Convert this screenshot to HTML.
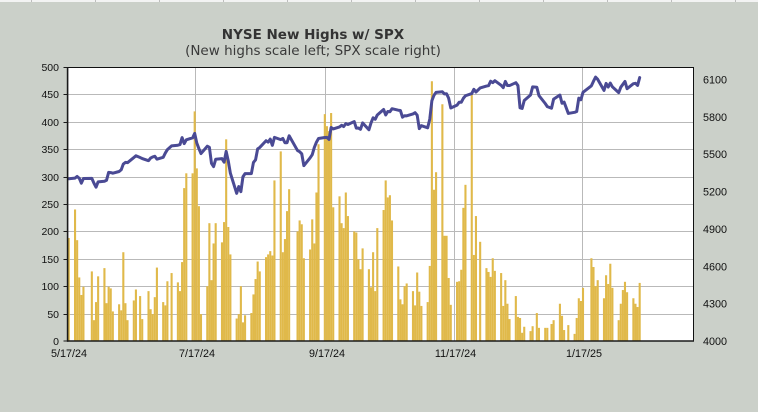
<!DOCTYPE html>
<html>
<head>
<meta charset="utf-8">
<style>
html,body{margin:0;padding:0;background:#cbd0c9;}
svg{display:block;}
.ax{font-family:"Liberation Sans",Arial,sans-serif;font-size:10.8px;fill:#111;}
</style>
</head>
<body>
<svg width="758" height="412" viewBox="0 0 758 412" xmlns="http://www.w3.org/2000/svg">
<rect x="0" y="0" width="758" height="412" fill="#cbd0c9"/>
<rect x="0" y="0" width="758" height="2" fill="#f3f3f3"/>
<g stroke="#bdbdbd" stroke-width="1">
<line x1="31.5" y1="0" x2="31.5" y2="2"/><line x1="95.5" y1="0" x2="95.5" y2="2"/><line x1="159.5" y1="0" x2="159.5" y2="2"/><line x1="223.5" y1="0" x2="223.5" y2="2"/><line x1="287.5" y1="0" x2="287.5" y2="2"/><line x1="351.5" y1="0" x2="351.5" y2="2"/><line x1="415.5" y1="0" x2="415.5" y2="2"/><line x1="479.5" y1="0" x2="479.5" y2="2"/><line x1="543.5" y1="0" x2="543.5" y2="2"/><line x1="607.5" y1="0" x2="607.5" y2="2"/><line x1="671.5" y1="0" x2="671.5" y2="2"/><line x1="735.5" y1="0" x2="735.5" y2="2"/>
</g>

<text x="313" y="39" text-anchor="middle" font-family="DejaVu Sans, Verdana, sans-serif" font-weight="bold" font-size="13.5" fill="#333">NYSE New Highs w/ SPX</text>
<text x="313" y="55" text-anchor="middle" font-family="DejaVu Sans, Verdana, sans-serif" font-size="13.5" fill="#3a3a3a">(New highs scale left; SPX scale right)</text>

<!-- plot area -->
<rect x="67.5" y="67.5" width="626" height="273.5" fill="#ffffff"/>

<!-- gridlines -->
<g stroke="#b9b9b9" stroke-width="1">
<line x1="68" y1="94.5" x2="693" y2="94.5"/>
<line x1="68" y1="122.5" x2="693" y2="122.5"/>
<line x1="68" y1="149.5" x2="693" y2="149.5"/>
<line x1="68" y1="177.5" x2="693" y2="177.5"/>
<line x1="68" y1="204.5" x2="693" y2="204.5"/>
<line x1="68" y1="231.5" x2="693" y2="231.5"/>
<line x1="68" y1="259.5" x2="693" y2="259.5"/>
<line x1="68" y1="286.5" x2="693" y2="286.5"/>
<line x1="68" y1="314.5" x2="693" y2="314.5"/>
<line x1="195.5" y1="68" x2="195.5" y2="341"/>
<line x1="325.5" y1="68" x2="325.5" y2="341"/>
<line x1="454.5" y1="68" x2="454.5" y2="341"/>
<line x1="582.5" y1="68" x2="582.5" y2="341"/>
</g>

<!-- bars -->
<g transform="translate(67.7,341) scale(2.099,-0.548)" fill="#e0b94a">
<rect x="0" width="1" height="188"/><rect x="3" width="1" height="240"/><rect x="4" width="1" height="184"/><rect x="5" width="1" height="116"/><rect x="6" width="1" height="84"/><rect x="7" width="1" height="99"/>
<rect x="11" width="1" height="127"/><rect x="12" width="1" height="38"/><rect x="13" width="1" height="71"/><rect x="14" width="1" height="118"/>
<rect x="17" width="1" height="133"/><rect x="18" width="1" height="69"/><rect x="19" width="1" height="99"/><rect x="20" width="1" height="96"/><rect x="21" width="1" height="54"/>
<rect x="24" width="1" height="67"/><rect x="25" width="1" height="56"/><rect x="26" width="1" height="162"/><rect x="27" width="1" height="69"/><rect x="28" width="1" height="38"/>
<rect x="31" width="1" height="74"/><rect x="32" width="1" height="94"/><rect x="34" width="1" height="82"/><rect x="35" width="1" height="40"/>
<rect x="38" width="1" height="91"/><rect x="39" width="1" height="58"/><rect x="40" width="1" height="49"/><rect x="41" width="1" height="80"/><rect x="42" width="1" height="134"/>
<rect x="45" width="1" height="71"/><rect x="46" width="1" height="65"/><rect x="47" width="1" height="109"/><rect x="49" width="1" height="124"/>
<rect x="52" width="1" height="107"/><rect x="53" width="1" height="91"/><rect x="54" width="1" height="144"/><rect x="55" width="1" height="279"/><rect x="56" width="1" height="306"/>
<rect x="59" width="1" height="306"/><rect x="60" width="1" height="419"/><rect x="61" width="1" height="315"/><rect x="62" width="1" height="246"/><rect x="63" width="1" height="49"/>
<rect x="66" width="1" height="100"/><rect x="67" width="1" height="215"/><rect x="68" width="1" height="111"/><rect x="69" width="1" height="178"/><rect x="70" width="1" height="215"/>
<rect x="73" width="1" height="180"/><rect x="74" width="1" height="217"/><rect x="75" width="1" height="368"/><rect x="76" width="1" height="208"/><rect x="77" width="1" height="158"/>
<rect x="80" width="1" height="41"/><rect x="81" width="1" height="49"/><rect x="82" width="1" height="100"/><rect x="83" width="1" height="34"/><rect x="84" width="1" height="47"/>
<rect x="87" width="1" height="51"/><rect x="88" width="1" height="85"/><rect x="89" width="1" height="113"/><rect x="90" width="1" height="145"/><rect x="91" width="1" height="127"/>
<rect x="94" width="1" height="153"/><rect x="95" width="1" height="158"/><rect x="96" width="1" height="164"/><rect x="97" width="1" height="156"/><rect x="98" width="1" height="293"/>
<rect x="101" width="1" height="346"/><rect x="102" width="1" height="162"/><rect x="103" width="1" height="186"/><rect x="104" width="1" height="237"/><rect x="105" width="1" height="277"/>
<rect x="109" width="1" height="200"/><rect x="110" width="1" height="220"/><rect x="111" width="1" height="213"/><rect x="112" width="1" height="151"/>
<rect x="115" width="1" height="167"/><rect x="116" width="1" height="222"/><rect x="117" width="1" height="178"/><rect x="118" width="1" height="271"/><rect x="119" width="1" height="359"/>
<rect x="122" width="1" height="414"/><rect x="123" width="1" height="392"/><rect x="124" width="1" height="383"/><rect x="125" width="1" height="416"/><rect x="126" width="1" height="244"/>
<rect x="129" width="1" height="264"/><rect x="130" width="1" height="215"/><rect x="131" width="1" height="206"/><rect x="132" width="1" height="271"/><rect x="133" width="1" height="228"/>
<rect x="136" width="1" height="200"/><rect x="137" width="1" height="198"/><rect x="138" width="1" height="149"/><rect x="139" width="1" height="131"/><rect x="140" width="1" height="169"/>
<rect x="143" width="1" height="131"/><rect x="144" width="1" height="98"/><rect x="145" width="1" height="162"/><rect x="146" width="1" height="91"/><rect x="147" width="1" height="206"/>
<rect x="150" width="1" height="239"/><rect x="151" width="1" height="293"/><rect x="152" width="1" height="262"/><rect x="153" width="1" height="266"/><rect x="154" width="1" height="220"/>
<rect x="157" width="1" height="136"/><rect x="158" width="1" height="76"/><rect x="159" width="1" height="67"/><rect x="160" width="1" height="100"/><rect x="161" width="1" height="105"/>
<rect x="164" width="1" height="91"/><rect x="165" width="1" height="65"/><rect x="166" width="1" height="125"/><rect x="167" width="1" height="90"/><rect x="168" width="1" height="64"/>
<rect x="171" width="1" height="71"/><rect x="172" width="1" height="137"/><rect x="173" width="1" height="474"/><rect x="174" width="1" height="276"/><rect x="175" width="1" height="308"/>
<rect x="178" width="1" height="432"/><rect x="179" width="1" height="192"/><rect x="180" width="1" height="192"/><rect x="181" width="1" height="115"/><rect x="182" width="1" height="66"/>
<rect x="185" width="1" height="108"/><rect x="186" width="1" height="109"/><rect x="187" width="1" height="130"/><rect x="188" width="1" height="243"/><rect x="189" width="1" height="285"/>
<rect x="192" width="1" height="449"/><rect x="193" width="1" height="157"/><rect x="194" width="1" height="228"/><rect x="196" width="1" height="181"/>
<rect x="199" width="1" height="133"/><rect x="200" width="1" height="126"/><rect x="201" width="1" height="117"/><rect x="202" width="1" height="151"/><rect x="203" width="1" height="128"/>
<rect x="206" width="1" height="124"/><rect x="207" width="1" height="64"/><rect x="208" width="1" height="111"/><rect x="209" width="1" height="68"/><rect x="210" width="1" height="40"/>
<rect x="213" width="1" height="82"/><rect x="214" width="1" height="44"/><rect x="215" width="1" height="42"/><rect x="216" width="1" height="15"/><rect x="217" width="1" height="26"/>
<rect x="220" width="1" height="18"/><rect x="221" width="1" height="27"/><rect x="223" width="1" height="51"/><rect x="224" width="1" height="24"/>
<rect x="227" width="1" height="24"/><rect x="228" width="1" height="24"/><rect x="230" width="1" height="31"/><rect x="231" width="1" height="38"/>
<rect x="234" width="1" height="68"/><rect x="235" width="1" height="46"/><rect x="236" width="1" height="20"/><rect x="238" width="1" height="29"/>
<rect x="241" width="1" height="13"/><rect x="242" width="1" height="42"/><rect x="243" width="1" height="78"/><rect x="244" width="1" height="73"/><rect x="245" width="1" height="97"/>
<rect x="249" width="1" height="151"/><rect x="250" width="1" height="135"/><rect x="251" width="1" height="100"/><rect x="252" width="1" height="111"/>
<rect x="255" width="1" height="78"/><rect x="256" width="1" height="120"/><rect x="257" width="1" height="104"/><rect x="258" width="1" height="141"/><rect x="259" width="1" height="97"/>
<rect x="262" width="1" height="38"/><rect x="263" width="1" height="68"/><rect x="264" width="1" height="93"/><rect x="265" width="1" height="108"/><rect x="266" width="1" height="89"/>
<rect x="269" width="1" height="78"/><rect x="270" width="1" height="68"/><rect x="271" width="1" height="62"/><rect x="272" width="1" height="106"/>
</g>

<!-- SPX line -->
<g transform="translate(67.7,341) scale(2.099,-0.124545)">
<polyline fill="none" stroke="#4a4a94" stroke-width="3" stroke-linejoin="round" stroke-linecap="round" vector-effect="non-scaling-stroke" points="0.5,1303 3.5,1308 4.5,1321 5.5,1307 6.5,1267 7.5,1305 11.5,1306 12.5,1267 13.5,1235 14.5,1278 17.5,1283 18.5,1291 19.5,1354 20.5,1352 21.5,1347 24.5,1361 25.5,1375 26.5,1421 27.5,1434 28.5,1432 31.5,1473 32.5,1487 34.5,1473 35.5,1465 38.5,1448 39.5,1469 40.5,1478 41.5,1483 42.5,1460 45.5,1475 46.5,1509 47.5,1537 49.5,1567 52.5,1572 53.5,1577 54.5,1633 55.5,1585 56.5,1615 59.5,1631 60.5,1667 61.5,1589 62.5,1545 63.5,1505 66.5,1564 67.5,1555 68.5,1427 69.5,1400 70.5,1459 73.5,1464 74.5,1436 75.5,1522 76.5,1446 77.5,1347 80.5,1186 81.5,1240 82.5,1199 83.5,1319 84.5,1344 87.5,1344 88.5,1434 89.5,1455 90.5,1543 91.5,1554 94.5,1608 95.5,1597 96.5,1621 97.5,1571 98.5,1635 101.5,1617 102.5,1626 103.5,1592 104.5,1592 105.5,1648 109.5,1529 110.5,1520 111.5,1503 112.5,1408 115.5,1471 116.5,1496 117.5,1554 118.5,1596 119.5,1626 122.5,1634 123.5,1635 124.5,1618 125.5,1714 126.5,1703 129.5,1719 130.5,1732 131.5,1722 132.5,1745 133.5,1738 136.5,1762 137.5,1709 138.5,1710 139.5,1700 140.5,1751 143.5,1696 144.5,1751 145.5,1792 146.5,1780 147.5,1815 150.5,1859 151.5,1815 152.5,1843 153.5,1841 154.5,1865 157.5,1853 158.5,1851 159.5,1797 160.5,1809 161.5,1808 164.5,1823 165.5,1833 166.5,1813 167.5,1705 168.5,1729 171.5,1712 172.5,1782 173.5,1929 174.5,1973 175.5,1996 178.5,2001 179.5,1984 180.5,1985 181.5,1949 182.5,1871 185.5,1894 186.5,1917 187.5,1917 188.5,1949 189.5,1969 192.5,1987 193.5,2021 194.5,1999 196.5,2032 199.5,2047 200.5,2050 201.5,2086 202.5,2075 203.5,2090 206.5,2053 207.5,2034 208.5,2084 209.5,2051 210.5,2051 213.5,2074 214.5,2051 215.5,1872 216.5,1867 217.5,1931 220.5,1975 221.5,2040 223.5,2037 224.5,1971 227.5,1907 228.5,1882 230.5,1869 231.5,1942 234.5,1975 235.5,1909 236.5,1918 238.5,1827 241.5,1836 242.5,1843 243.5,1950 244.5,1937 245.5,1997 249.5,2049 250.5,2086 251.5,2119 252.5,2101 255.5,2012 256.5,2068 257.5,2039 258.5,2071 259.5,2041 262.5,1994 263.5,2038 264.5,2061 265.5,2084 266.5,2026 269.5,2066 270.5,2069 271.5,2052 272.5,2115"/>
</g>

<!-- frame -->
<line x1="67" y1="67.5" x2="694" y2="67.5" stroke="#111" stroke-width="1"/>
<line x1="693.5" y1="67" x2="693.5" y2="341.5" stroke="#111" stroke-width="1"/>
<line x1="67.6" y1="67" x2="67.6" y2="341.8" stroke="#1a1a1a" stroke-width="1.6"/>
<line x1="67" y1="341" x2="694" y2="341" stroke="#1a1a1a" stroke-width="1.6"/>

<!-- left ticks -->
<g stroke="#1a1a1a" stroke-width="1">
<line x1="63.5" y1="67.5" x2="67" y2="67.5"/>
<line x1="63.5" y1="94.5" x2="67" y2="94.5"/>
<line x1="63.5" y1="122.5" x2="67" y2="122.5"/>
<line x1="63.5" y1="149.5" x2="67" y2="149.5"/>
<line x1="63.5" y1="177.5" x2="67" y2="177.5"/>
<line x1="63.5" y1="204.5" x2="67" y2="204.5"/>
<line x1="63.5" y1="231.5" x2="67" y2="231.5"/>
<line x1="63.5" y1="259.5" x2="67" y2="259.5"/>
<line x1="63.5" y1="286.5" x2="67" y2="286.5"/>
<line x1="63.5" y1="314.5" x2="67" y2="314.5"/>
<line x1="63.5" y1="341" x2="67" y2="341"/>
</g>

<!-- left labels -->
<g class="ax" text-anchor="end" style="font-size:10.5px">
<text x="59" y="71">500</text>
<text x="59" y="98">450</text>
<text x="59" y="126">400</text>
<text x="59" y="153">350</text>
<text x="59" y="181">300</text>
<text x="59" y="208">250</text>
<text x="59" y="235">200</text>
<text x="59" y="263">150</text>
<text x="59" y="290">100</text>
<text x="59" y="318">50</text>
<text x="59" y="345">0</text>
</g>

<!-- right labels -->
<g class="ax" text-anchor="start">
<text x="703" y="83.5">6100</text>
<text x="703" y="120.8">5800</text>
<text x="703" y="158.2">5500</text>
<text x="703" y="195.5">5200</text>
<text x="703" y="232.9">4900</text>
<text x="703" y="270.3">4600</text>
<text x="703" y="307.6">4300</text>
<text x="703" y="345">4000</text>
</g>

<!-- x labels -->
<g class="ax" text-anchor="middle">
<text x="69" y="357">5/17/24</text>
<text x="197" y="357">7/17/24</text>
<text x="327" y="357">9/17/24</text>
<text x="455.5" y="357">11/17/24</text>
<text x="584" y="357">1/17/25</text>
</g>
</svg>
</body>
</html>
